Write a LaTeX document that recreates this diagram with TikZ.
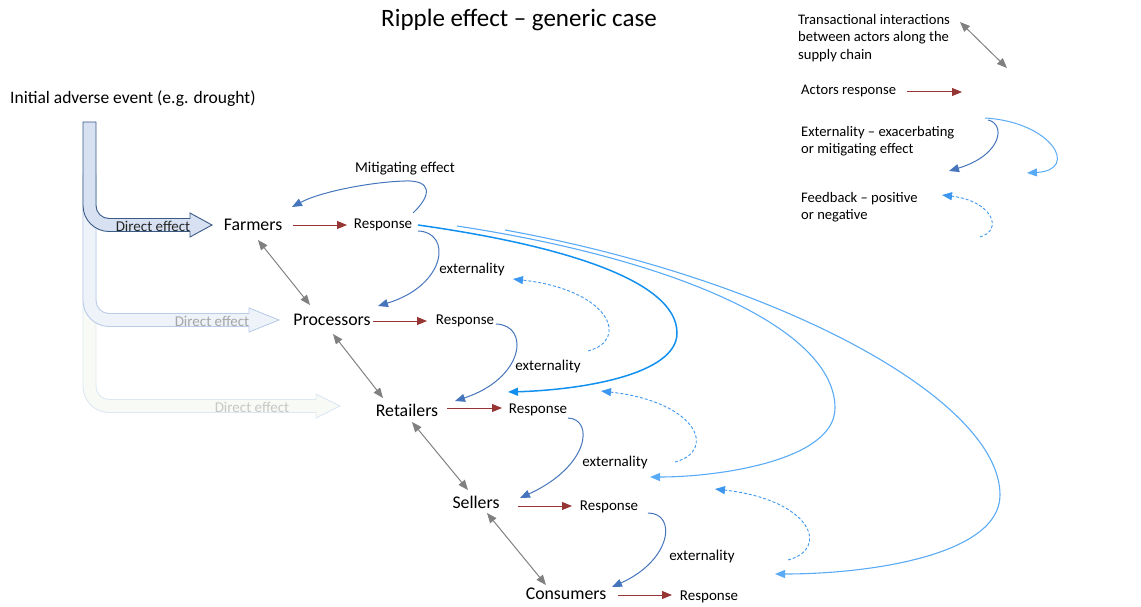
\documentclass[tikz,border=0pt]{standalone}
\usepackage{fontspec}
\setmainfont{Carlito}
\usetikzlibrary{arrows.meta,calc}
\definecolor{dred}{HTML}{963634}
\definecolor{tgrey}{HTML}{808080}
\definecolor{extblue}{HTML}{4675BC}
\definecolor{fbblue}{HTML}{3D97F0}
\definecolor{lblue}{HTML}{5AABF5}
\definecolor{bblue}{HTML}{1290F0}
\definecolor{a1fill}{HTML}{D7E1F1}
\definecolor{a1draw}{HTML}{3A5A88}
\definecolor{a2fill}{HTML}{EEF3FA}
\definecolor{a2draw}{HTML}{B9CCE8}
\definecolor{a3fill}{HTML}{F8FAF6}
\definecolor{a3draw}{HTML}{DEE7F2}
\newcommand{\bentarr}[6]{%
\filldraw[fill=#4, draw=#5, line width=0.9pt, line join=miter]
 (83,#1) -- (83,{#2-19.5}) .. controls (83,{#2-5.15}) and (94.65,{#2+6.5}) .. (109,{#2+6.5})
 -- ({#3-#6},{#2+6.5}) -- ({#3-#6},{#2+12}) -- (#3,#2) -- ({#3-#6},{#2-12}) -- ({#3-#6},{#2-6.5})
 -- (109,{#2-6.5}) .. controls (101.8,{#2-6.5}) and (96,{#2-12.3}) .. (96,{#2-19.5}) -- (96,#1) -- cycle;}
\begin{document}
\begin{tikzpicture}[x=1pt,y=-1pt,
 actor/.style={font=\fontsize{17.8}{20}\selectfont, inner sep=0pt},
 resp/.style={font=\fontsize{15}{17}\selectfont, inner sep=0pt},
 lbl/.style={font=\fontsize{15}{17}\selectfont, inner sep=0pt},
 legtext/.style={font=\fontsize{14.6}{17.2}\selectfont, inner sep=0pt, align=left, anchor=west},
 endtip/.style={-{Triangle[length=10pt,width=8pt]}},
 respfx/.style={draw=dred, line width=1pt, endtip},
 transfx/.style={draw=tgrey, line width=1pt, {Triangle[length=10pt,width=8pt]}-{Triangle[length=10pt,width=8pt]}},
 extfx/.style={draw=extblue, line width=1pt, endtip},
 fbfx/.style={draw=fbblue, line width=0.9pt, dash pattern=on 3pt off 2pt, endtip},
 longfx/.style={draw=lblue, line width=1.1pt, endtip},
 bigfx/.style={draw=bblue, line width=1.5pt, endtip},
]
\useasboundingbox (0,0) rectangle (1141,607);

% title
\node[font=\fontsize{25}{28}\selectfont, inner sep=0pt] (title) at (519,20) {Ripple effect -- generic case};
\node[font=\fontsize{17.5}{20}\selectfont, inner sep=0pt, anchor=west] (event) at (10,99) {Initial adverse event (e.g. drought)};

% bent arrows
\bentarr{175}{406}{340}{a3fill}{a3draw}{24}
\bentarr{175}{320}{279}{a2fill}{a2draw}{30}
\bentarr{122}{225}{212}{a1fill}{a1draw}{22}
\node[lbl, text=black!85] (de1) at (153,226) {Direct effect};
\node[lbl, text=black!35] (de2) at (212,321) {Direct effect};
\node[lbl, text=black!22] (de3) at (252,407) {Direct effect};

% actors
\node[actor] (farm) at (253,225) {Farmers};
\node[actor] (proc) at (332,320) {Processors};
\node[actor] (ret) at (407,410) {Retailers};
\node[actor] (sell) at (476,502) {Sellers};
\node[actor] (cons) at (566,594) {Consumers};

% responses
\node[resp] (rfarm) at (383,225) {Response};
\node[resp] (rproc) at (465,321) {Response};
\node[resp] (rret) at (538,410) {Response};
\node[resp] (rsell) at (609,507) {Response};
\node[resp] (rcons) at (709,597) {Response};

% labels
\node[lbl] (mit) at (405,169) {Mitigating effect};
\node[lbl] (ex1) at (472,269) {externality};
\node[lbl] (ex2) at (548,366) {externality};
\node[lbl] (ex3) at (615,462) {externality};
\node[lbl] (ex4) at (702,556) {externality};

% response arrows
\draw[respfx] ($(farm)+(40,0)$) -- ($(rfarm)+(-36,0)$);
\draw[respfx] ($(proc)+(41,1)$) -- ($(rproc)+(-38,0)$);
\draw[respfx] ($(ret)+(40,-2)$) -- ($(rret)+(-36,-2)$);
\draw[respfx] ($(sell)+(42,4)$) -- ($(rsell)+(-37,-1)$);
\draw[respfx] ($(cons)+(52,1)$) -- ($(rcons)+(-37,-2)$);

% transactional arrows
\draw[transfx] ($(farm)+(5,15)$) -- ($(proc)+(-22,-15)$);
\draw[transfx] ($(proc)+(1,14)$) -- ($(ret)+(-24,-12)$);
\draw[transfx] ($(ret)+(5,12)$) -- ($(sell)+(-8,-12)$);
\draw[transfx] ($(sell)+(11,11)$) -- ($(cons)+(-20,-9)$);

% externality curves
\draw[extfx] ($(rfarm)+(30,-12)$) .. controls (432,195) and (432,180) .. (405,181)
  .. controls (370,182) and (320,192) .. ($(farm)+(39,-18)$);
\draw[extfx] ($(rfarm)+(35,6)$) .. controls (452,232) and (447,285) .. ($(proc)+(46,-14)$);
\draw[extfx] ($(rproc)+(31,3)$) .. controls (530,325) and (525,378) .. ($(ret)+(48,-9)$);
\draw[extfx] ($(rret)+(30,8)$) .. controls (594,419) and (590,466) .. ($(sell)+(44,-4)$);
\draw[extfx] ($(rsell)+(39,6)$) .. controls (677,513) and (672,560) .. ($(cons)+(46,-7)$);

% feedback dashed curves
\draw[fbfx] (588,351) .. controls +(42,-11) and +(97,11) .. (513,279);
\draw[fbfx] (675,462) .. controls +(42,-11) and +(97,11) .. (601,391);
\draw[fbfx] (788,560) .. controls +(42,-11) and +(97,11) .. (715,489);

% long curves
\draw[bigfx] ($(rfarm)+(35,0)$) .. controls (560,245) and (677,280) .. (677,333)
  .. controls (677,375) and (580,390) .. ($(ret)+(101,-18)$);
\draw[longfx] ($(rfarm)+(74,1)$) .. controls (680,260) and (835,330) .. (835,408)
  .. controls (835,460) and (720,477) .. ($(sell)+(174,-25)$);
\draw[longfx] ($(rfarm)+(122,5)$) .. controls (780,280) and (1000,400) .. (1000,495)
  .. controls (1000,555) and (870,574) .. ($(cons)+(209,-20)$);

% legend
\node[legtext] (lg1) at (798,38) {Transactional interactions\\between actors along the\\supply chain};
\node[legtext] (lg2) at (801,91) {Actors response};
\node[legtext] (lg3) at (801,141) {Externality -- exacerbating\\or mitigating effect};
\node[legtext] (lg4) at (801,207) {Feedback -- positive\\or negative};
\coordinate (t1a) at (960,22);
\coordinate (t1b) at (1007,68);
\draw[transfx] (t1a) -- (t1b);
\coordinate (r1a) at (907,92);
\coordinate (r1b) at (962,92);
\draw[respfx] (r1a) -- (r1b);
\coordinate (e1a) at (988,120);
\coordinate (e1b) at (949,171);
\draw[extfx] (e1a) .. controls (1006,124) and (1002,155) .. (e1b);
\coordinate (e2a) at (985,118);
\coordinate (e2b) at (1027,173);
\draw[longfx, line width=1pt] (e2a) .. controls (1052,122) and (1080,170) .. (e2b);
\coordinate (f1a) at (980,237);
\coordinate (f1b) at (942,195);
\draw[fbfx] (f1a) .. controls +(24,-7) and +(50,6) .. (f1b);
\end{tikzpicture}
\end{document}
